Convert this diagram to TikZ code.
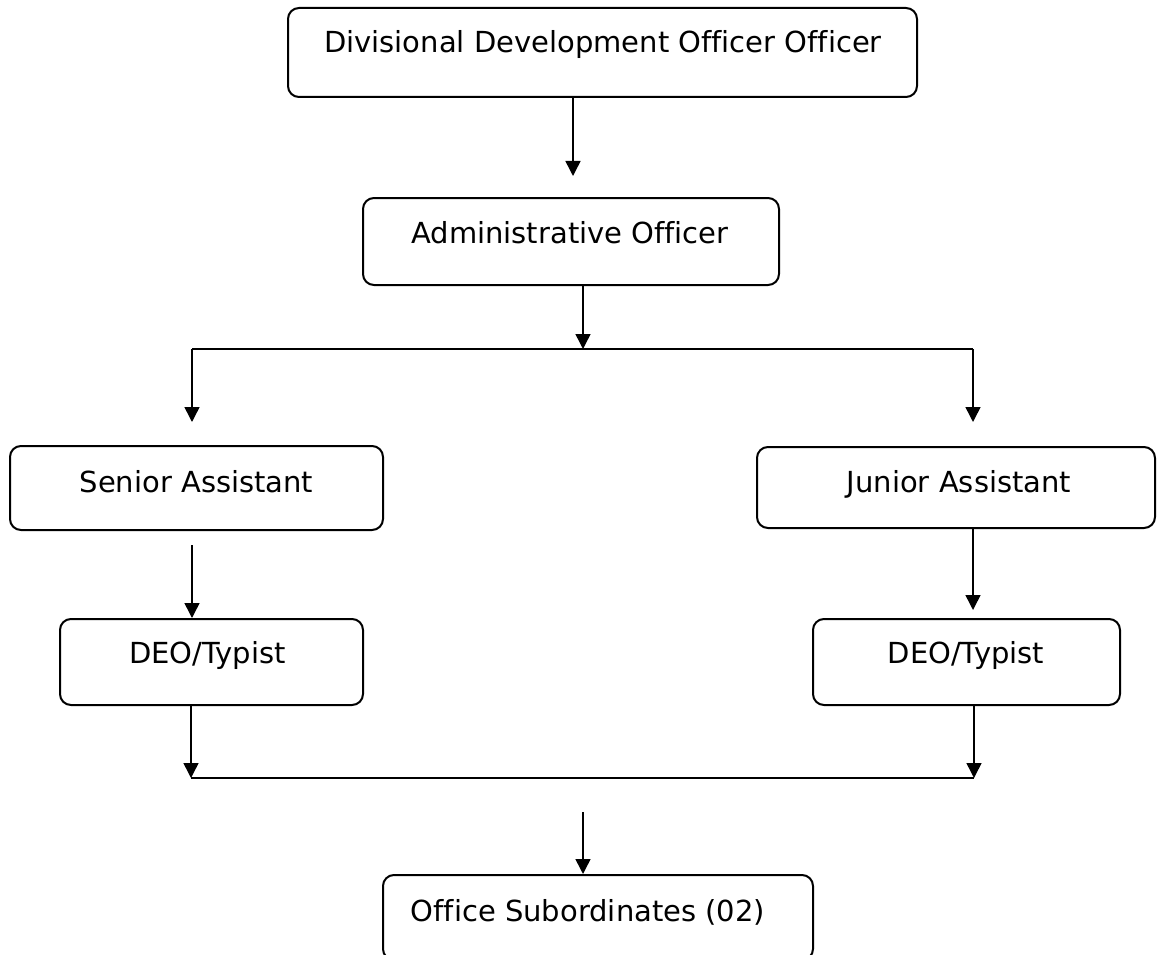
\documentclass[tikz,border=0pt]{standalone}
\usepackage{fontspec}
\setmainfont{DejaVu Sans}[Ligatures=NoCommon]
\usetikzlibrary{arrows.meta}
\begin{document}
\begin{tikzpicture}[x=1pt,y=-1pt,
  box/.style={draw, line width=2pt, rounded corners=11pt, inner sep=0pt},
  lbl/.style={anchor=base, inner sep=0pt, font=\fontsize{29}{34}\selectfont},
  arr/.style={line width=1.5pt, -{Triangle[length=15pt,width=15pt]}},
  bus/.style={line width=2pt}]
\useasboundingbox (0,0) rectangle (1157,955);
% boxes
\node[box, minimum width=629pt, minimum height=89pt] (dd) at (602.5,52.5) {};
\node[box, minimum width=416pt, minimum height=87pt] (ao) at (571,241.5) {};
\node[box, minimum width=373pt, minimum height=84pt] (sa) at (196.5,488) {};
\node[box, minimum width=398pt, minimum height=81pt] (ja) at (956,487.5) {};
\node[box, minimum width=303pt, minimum height=86pt] (dl) at (211.5,662) {};
\node[box, minimum width=307pt, minimum height=86pt] (dr) at (966.5,662) {};
\node[box, minimum width=430pt, minimum height=85pt] (os) at (598,917.5) {};
% labels
\node[lbl] (ddt) at (603,53) {Divisional Development Officer Officer};
\node[lbl] (aot) at (570,243) {Administrative Officer};
\node[lbl] (sat) at (196.5,492) {Senior Assistant};
\node[lbl] (jat) at (959,492) {Junior Assistant};
\node[lbl] (dlt) at (207.5,663) {DEO/Typist};
\node[lbl] (drt) at (966,663) {DEO/Typist};
\node[lbl] (ost) at (588,921) {Office Subordinates (02)};
% connector points
\coordinate (a1) at (573,176);
\coordinate (a2) at (583,349);
\coordinate (b1l) at (192,349);
\coordinate (b1r) at (973,349);
\coordinate (t1l) at (192,422);
\coordinate (t1r) at (973,422);
\coordinate (s1) at (192,545);
\coordinate (j1) at (973,610);
\coordinate (b2l) at (191,778);
\coordinate (b2r) at (974,778);
\coordinate (o1) at (583,812);
% connectors
\draw[arr] (dd.south -| a1) -- (a1);
\draw[arr] (ao.south -| a2) -- (a2);
\draw[bus] (b1l) -- (b1r);
\draw[arr] (b1l) -- (t1l);
\draw[arr] (b1r) -- (t1r);
\draw[arr] (s1) -- (s1 |- dl.north);
\draw[arr] (ja.south -| j1) -- (j1);
\draw[arr] (dl.south -| b2l) -- (b2l);
\draw[arr] (dr.south -| b2r) -- (b2r);
\draw[bus] (b2l) -- (b2r);
\draw[arr] (o1) -- (o1 |- os.north);
\end{tikzpicture}
\end{document}
